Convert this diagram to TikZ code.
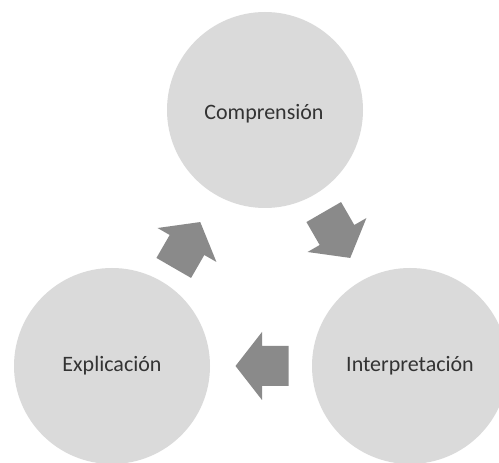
\documentclass[tikz,border=0pt]{standalone}
\usepackage{fontspec}
\setmainfont{Carlito}
\definecolor{circfill}{HTML}{DADADA}
\definecolor{arrfill}{HTML}{8A8A8A}
\definecolor{txtcol}{HTML}{333333}
\tikzset{
  stage/.style={circle, fill=circfill, minimum size=196pt, inner sep=0pt,
    text=txtcol, font=\fontsize{22}{26}\selectfont},
  blockarrow/.pic={\fill[arrfill] (-26.5,-20) -- (0,-20) -- (0,-34) -- (26.5,0) -- (0,34) -- (0,20) -- (-26.5,20) -- cycle;}
}
\begin{document}
\begin{tikzpicture}[x=1pt,y=1pt]
\useasboundingbox (0,0) rectangle (499,463);
\clip (0,0) rectangle (499,463);
\node[stage] (comp) at (265,353) {};
\node[text=txtcol, font=\fontsize{22}{26}\selectfont] (comptext) at (264,349) {Comprensión};
\node[stage] (expl) at (112,97) {Explicación};
\node[stage] (interp) at (410,97) {Interpretación};
\coordinate (a1) at (187,218);
\coordinate (a2) at (337,228);
\coordinate (a3) at (262,97);
\pic[rotate=60] at (a1) {blockarrow};
\pic[rotate=-60] at (a2) {blockarrow};
\pic[rotate=180] at (a3) {blockarrow};
\end{tikzpicture}
\end{document}
